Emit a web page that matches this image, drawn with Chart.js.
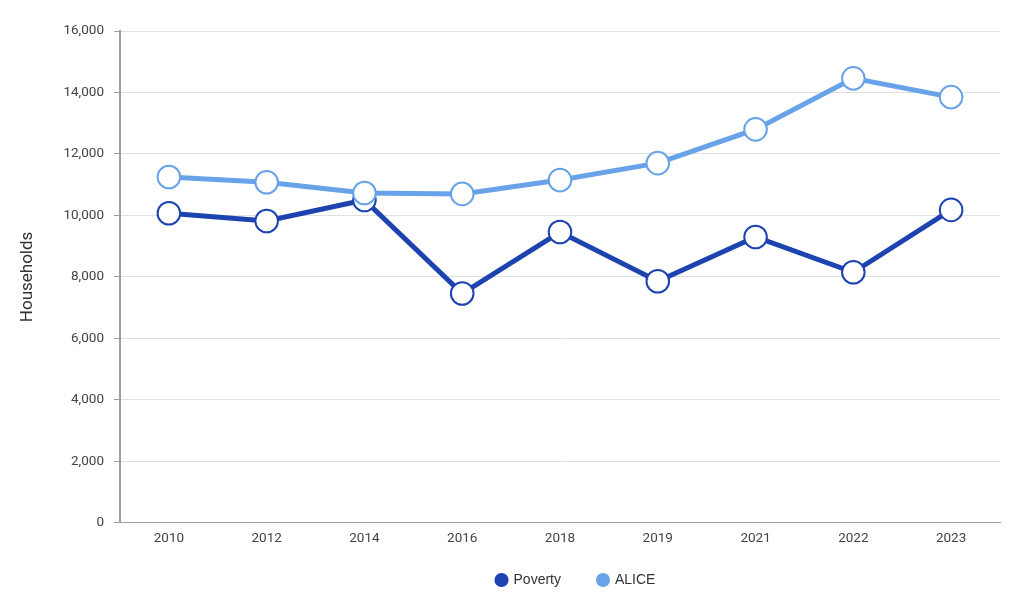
<!DOCTYPE html>
<html>
<head>
<meta charset="utf-8">
<script src="https://cdn.jsdelivr.net/npm/chart.js@4/dist/chart.umd.min.js"></script>
<style>
  html, body { margin: 0; padding: 0; background: #fff; }
  #wrap { width: 1024px; height: 607px; }
</style>
</head>
<body>
<div id="wrap"><canvas id="chart"></canvas></div>
<script>
const years = ['2010', '2012', '2014', '2016', '2018', '2019', '2021', '2022', '2023'];
const poverty = [10070, 9820, 10500, 7460, 9460, 7860, 9300, 8150, 10180];
const alice = [11250, 11080, 10730, 10700, 11150, 11700, 12800, 14460, 13850];

const povertyColor = '#1c43b0';
const aliceColor = '#68a2e8';

function lineSet(label, data, color, order) {
    return {
        label: label,
        data: data,
        borderColor: color,
        backgroundColor: color,
        borderWidth: 5,
        pointRadius: 11.3,
        pointHoverRadius: 11.3,
        pointBorderWidth: 2,
        pointBackgroundColor: '#ffffff',
        pointBorderColor: color,
        tension: 0,
        order: order
    };
}

// centre the legend under the plot area and lift it a little
// (grow the box upwards so the legend's clip doesn't cut the labels)
const legendShift = {
    id: 'legendShift',
    afterLayout(chart) {
        const lg = chart.legend;
        const area = chart.chartArea;
        const dx = (area.left + area.right) / 2 + 16 - (lg.left + lg.right) / 2;
        lg.left += dx;
        lg.right += dx;
        lg.top -= 19;
        lg.height += 19;
    }
};

new Chart(document.getElementById('chart'), {
    type: 'line',
    data: {
        labels: years,
        datasets: [
            lineSet('Poverty', poverty, povertyColor, 1),
            lineSet('ALICE', alice, aliceColor, 0)
        ]
    },
    options: {
        responsive: true,
        maintainAspectRatio: false,
        animation: false,
        layout: { padding: { left: 14, right: 24, top: 31, bottom: 10 } },
        plugins: {
            legend: {
                position: 'bottom',
                maxHeight: 42,
                labels: {
                    usePointStyle: true,
                    pointStyle: 'circle',
                    boxWidth: 10,
                    boxHeight: 10,
                    padding: 37,
                    color: '#333',
                    font: { family: 'Liberation Sans', size: 14 },
                    sort: (a, b) => a.datasetIndex - b.datasetIndex,
                    generateLabels: (chart) => {
                        const items = Chart.defaults.plugins.legend.labels.generateLabels(chart);
                        items.forEach(it => { it.fillStyle = it.strokeStyle; it.lineWidth = 0; });
                        return items;
                    }
                }
            },
            tooltip: { enabled: false }
        },
        scales: {
            x: {
                offset: true,
                grid: { display: false, drawTicks: false },
                border: { display: true, color: '#9e9e9e', width: 1 },
                ticks: { color: '#444', padding: 8, font: { family: 'Roboto', size: 13.5 } }
            },
            y: {
                min: 0,
                max: 16000,
                grid: { color: '#e0e0e0', tickLength: 6, tickColor: '#9e9e9e' },
                border: { display: true, color: '#9e9e9e', width: 2 },
                ticks: {
                    stepSize: 2000,
                    color: '#444',
                    padding: 10,
                    font: { family: 'Roboto', size: 13.5 },
                    callback: (v) => v.toLocaleString('en-US')
                },
                title: {
                    display: true,
                    text: 'Households',
                    color: '#333',
                    padding: { bottom: 15 },
                    font: { family: 'Roboto', size: 17 }
                }
            }
        }
    },
    plugins: [legendShift]
});
</script>
</body>
</html>
